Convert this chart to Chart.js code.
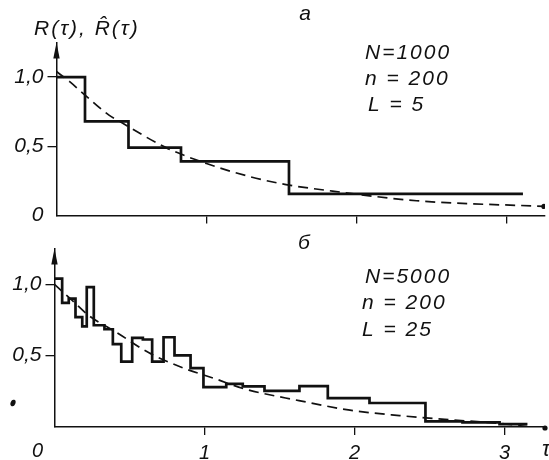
<!DOCTYPE html>
<html>
<head>
<meta charset="utf-8">
<script src="https://cdn.jsdelivr.net/npm/chart.js@4.4.1/dist/chart.umd.min.js"></script>
<style>
  html, body { margin: 0; padding: 0; background: #fff; }
  #wrap { position: relative; width: 549px; height: 460px; overflow: hidden; }
  .panel { position: absolute; left: 0; width: 549px; }
  #top { top: 0; height: 232px; }
  #bottom { top: 232px; height: 228px; }
</style>
</head>
<body>
<div id="wrap">
  <div class="panel" id="top"><canvas id="chartA"></canvas></div>
  <div class="panel" id="bottom"><canvas id="chartB"></canvas></div>
</div>
<script>
// panel а: N=1000, n=200, L=5
const edgesA = [0, 0.19, 0.48, 0.83, 1.55, 3.11];
const stepsA = [1.0, 0.68, 0.49, 0.39, 0.155];
const curveTauA = [0, 0.09, 0.19, 0.35, 0.42, 0.73, 1.0, 1.29, 1.53, 1.84, 2.4, 3.25];
const curveA = [1.04, 0.965, 0.87, 0.725, 0.68, 0.49, 0.375, 0.28, 0.223, 0.176, 0.106, 0.065];

// panel б: N=5000, n=200, L=25
const edgesB = [0, 0.051, 0.095, 0.14, 0.185, 0.215, 0.262, 0.333, 0.389, 0.445, 0.518, 0.589, 0.651,
    0.727, 0.80, 0.907, 0.993, 1.145, 1.255, 1.40, 1.633, 1.822, 2.10, 2.473, 2.72, 2.967, 3.153];
const stepsB = [1.04, 0.87, 0.90, 0.77, 0.705, 0.98, 0.713, 0.685, 0.58, 0.458, 0.625, 0.613, 0.458,
    0.629, 0.502, 0.413, 0.28, 0.302, 0.285, 0.253, 0.287, 0.202, 0.168, 0.04, 0.033, 0.02];
const curveTauB = [0, 0.12, 0.23, 0.41, 0.63, 0.86, 1.08, 1.26, 1.63, 1.97, 2.3, 2.63, 2.97, 3.15];
const curveB = [1.0, 0.885, 0.78, 0.665, 0.52, 0.413, 0.335, 0.269, 0.185, 0.118, 0.08, 0.051, 0.025, 0.003];

const yTicksA = [0, 0.5, 1.0];
const yTicksB = [0.5, 1.0];
const xTicks = [1, 2, 3];

const INK = '#111';
const FONT = '"Liberation Sans", "DejaVu Sans", sans-serif';

Chart.defaults.font.family = FONT;
Chart.defaults.color = INK;

// axis arrow, free texts and the scan speck
const decorPlugin = {
    id: 'decor',
    afterDraw(chart, args, opts) {
        const { ctx, chartArea: a, scales } = chart;
        ctx.save();
        ctx.fillStyle = INK;
        ctx.beginPath();
        ctx.moveTo(a.left, a.top);
        ctx.lineTo(a.left - 3.2, a.top + 16);
        ctx.lineTo(a.left + 3.2, a.top + 16);
        ctx.closePath();
        ctx.fill();

        if (opts.xArrow) {
            ctx.beginPath();
            ctx.arc(a.right, a.bottom + 1, 2.6, 0, Math.PI * 2);
            ctx.fill();
        }

        ctx.textBaseline = 'middle';
        ctx.letterSpacing = '2px';
        (opts.texts || []).forEach((t) => {
            ctx.font = `italic ${t.size || 21}px ${FONT}`;
            ctx.textAlign = t.align || 'left';
            const x = t.tau !== undefined ? scales.x.getPixelForValue(t.tau) + (t.dx || 0) : t.x;
            ctx.fillText(t.text, x, t.y);
        });

        if (opts.speck) {
            ctx.beginPath();
            ctx.ellipse(opts.speck[0], opts.speck[1], 2.4, 3.4, 0.4, 0, Math.PI * 2);
            ctx.fill();
        }
        ctx.restore();
    },
};

function makePanel(id, opt) {
    const steps = [{ x: opt.edges[0], y: opt.steps[0] }];
    opt.steps.forEach((v, i) => steps.push({ x: opt.edges[i + 1], y: v }));
    const curve = opt.curveTau.map((t, i) => ({ x: t, y: opt.curve[i] }));
    const last = curve.length - 1;

    return new Chart(document.getElementById(id), {
        type: 'line',
        data: {
            datasets: [
                {
                    data: steps,
                    stepped: 'after',
                    borderColor: INK,
                    borderWidth: 2.7,
                    pointRadius: 0,
                    fill: false,
                },
                {
                    data: curve,
                    borderColor: INK,
                    borderWidth: 1.7,
                    borderDash: [10, 6],
                    cubicInterpolationMode: 'monotone',
                    pointRadius: (c) => (opt.endDot && c.dataIndex === last ? 2.6 : 0),
                    pointBackgroundColor: INK,
                    pointBorderWidth: 0,
                    fill: false,
                },
            ],
        },
        options: {
            responsive: true,
            maintainAspectRatio: false,
            animation: false,
            layout: { padding: { top: opt.padTop, right: 4, left: 0, bottom: 0 } },
            plugins: {
                legend: { display: false },
                tooltip: { enabled: false },
                decor: opt.decor,
            },
            scales: {
                x: {
                    type: 'linear',
                    min: 0,
                    max: opt.xMax,
                    afterBuildTicks: (s) => { s.ticks = xTicks.map((v) => ({ value: v })); },
                    afterFit: (s) => { s.height = opt.xAxisHeight; },
                    border: { display: true, color: INK, width: 1.5 },
                    grid: { drawOnChartArea: false, drawTicks: true, tickLength: 8, color: INK, lineWidth: 1.3 },
                    ticks: {
                        display: opt.xLabels,
                        autoSkip: false,
                        maxRotation: 0,
                        padding: 6,
                        color: INK,
                        font: { size: 20, style: 'italic' },
                        callback: (v) => String(v),
                    },
                },
                y: {
                    min: 0,
                    max: 1.25,
                    afterBuildTicks: (s) => { s.ticks = opt.yTicks.map((v) => ({ value: v })); },
                    afterFit: (s) => { s.width = opt.yAxisWidth; },
                    border: { display: true, color: INK, width: 1.5 },
                    grid: {
                        drawOnChartArea: false,
                        drawTicks: true,
                        tickLength: 9,
                        lineWidth: 1.3,
                        color: (c) => (c.tick && c.tick.value === 0 ? 'rgba(0,0,0,0)' : INK),
                    },
                    ticks: {
                        padding: 4,
                        color: INK,
                        font: { size: 21, style: 'italic' },
                        callback: (v) => (v === 0 ? '0' : v.toFixed(1).replace('.', ',')),
                    },
                },
            },
        },
        plugins: [decorPlugin],
    });
}

makePanel('chartA', {
    edges: edgesA,
    steps: stepsA,
    curveTau: curveTauA,
    curve: curveA,
    yTicks: yTicksA,
    xMax: 3.257,
    padTop: 42.5,
    yAxisWidth: 56.5,
    xAxisHeight: 12,
    xLabels: false,
    endDot: true,
    decor: {
        texts: [
            { text: 'R(τ), R\u0302(τ)', x: 34, y: 29, size: 21 },
            { text: 'а', x: 306, y: 14, size: 21, align: 'center' },
            { text: 'N=1000', x: 365, y: 53 },
            { text: 'n = 200', x: 365, y: 79 },
            { text: 'L = 5', x: 368, y: 105 },
        ],
    },
});

makePanel('chartB', {
    edges: edgesB,
    steps: stepsB,
    curveTau: curveTauB,
    curve: curveB,
    yTicks: yTicksB,
    xMax: 3.27,
    padTop: 7.5,
    yAxisWidth: 54.5,
    xAxisHeight: 33,
    xLabels: true,
    endDot: false,
    decor: {
        xArrow: true,
        speck: [13, 171],
        texts: [
            { text: 'б', x: 305, y: 11, size: 21, align: 'center' },
            { text: 'N=5000', x: 365, y: 45 },
            { text: 'n = 200', x: 362, y: 71 },
            { text: 'L = 25', x: 362, y: 98 },
            { text: '0', tau: 0, dx: -16, y: 219, size: 20, align: 'center' },
            { text: 'τ', x: 542, y: 218, size: 22 },
        ],
    },
});
</script>
</body>
</html>
